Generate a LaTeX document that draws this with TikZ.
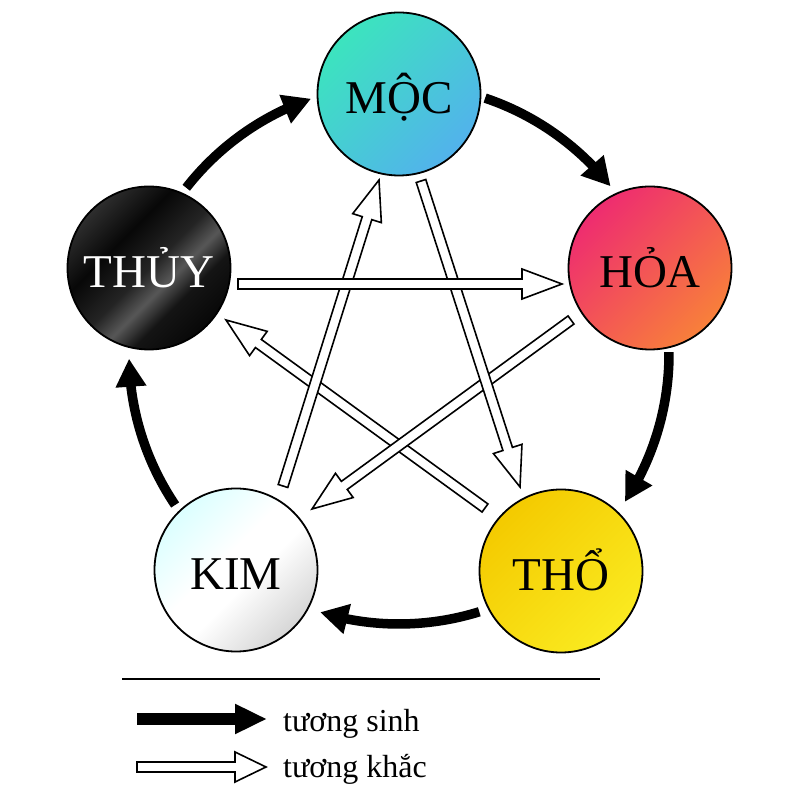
\documentclass[tikz,border=0pt]{standalone}
\usepackage{fontspec}
\setmainfont{Liberation Serif}
\usetikzlibrary{arrows.meta,calc,bending}
\definecolor{mocA}{HTML}{3CE4BE}
\definecolor{mocM}{HTML}{80DAE8}
\definecolor{mocB}{HTML}{52B2EC}
\definecolor{hoaA}{HTML}{EE2C70}
\definecolor{hoaB}{HTML}{F8803A}
\definecolor{thoA}{HTML}{F4CA00}
\definecolor{thoB}{HTML}{FAEA20}
\pgfdeclareverticalshading{thuyshade}{100bp}{color(0bp)=(black!97); color(25bp)=(black!97); color(36bp)=(black!92); color(43bp)=(black!66); color(50bp)=(black!86); color(62bp)=(black!97); color(75bp)=(black!82); color(100bp)=(black!82)}
\pgfdeclareverticalshading{kimshade}{100bp}{color(0bp)=(black!16); color(25bp)=(black!16); color(45bp)=(white); color(55bp)=(white); color(75bp)=(cyan!14); color(100bp)=(cyan!14)}
\newcommand\khac[3]{%
  \draw[khacline]
   ($(#1)!5pt!90:(#2)$) --
   ($(#2)!#3!(#1)!5pt!90:(#2)$) --
   ($(#2)!#3!(#1)!15pt!90:(#2)$) --
   (#2) --
   ($(#2)!#3!(#1)!15pt!-90:(#2)$) --
   ($(#2)!#3!(#1)!5pt!-90:(#2)$) --
   ($(#1)!5pt!-90:(#2)$) -- cycle;}
\begin{document}
\begin{tikzpicture}[x=1pt,y=1pt,
  elem/.style={circle, draw=black, line width=1.8pt, minimum size=163pt, inner sep=0pt,
    font=\fontsize{47}{47}\selectfont, text height=39pt, text depth=0pt},
  sinh/.style={line width=9.5pt, -{Triangle[length=28pt,width=29pt]}},
  khacline/.style={draw=black, fill=white, line width=1.6pt, line join=miter},
  legtext/.style={anchor=base west, inner sep=0pt, font=\fontsize{32}{32}\selectfont}]
\useasboundingbox (0,0) rectangle (800,800);
\fill[white] (0,0) rectangle (800,800);
% elements
\node[elem, top color=mocA, middle color=mocM, bottom color=mocB, shading angle=45] (moc) at (399,706) {MỘC};
\node[elem, top color=hoaA, bottom color=hoaB, shading angle=45] (hoa) at (650,532) {HỎA};
\node[elem, top color=thoA, bottom color=thoB, shading angle=45] (tho) at (561,229) {THỔ};
\node[elem, shading=kimshade, shading angle=45] (kim) at (236,230) {KIM};
\node[elem, shading=thuyshade, shading angle=45, text=white] (thuy) at (149,532) {THỦY};
% sinh cycle
\coordinate (c) at (399,446);
\draw[sinh] ($(c)+(71.4:270)$) arc[start angle=71.4, end angle=38.4, radius=270];
\draw[sinh] ($(c)+(0.4:270)$) arc[start angle=0.4, end angle=-33.2, radius=270];
\draw[sinh] ($(c)+(-72.7:270)$) arc[start angle=-72.7, end angle=-107, radius=270];
\draw[sinh] ($(c)+(-146:270)$) arc[start angle=-146, end angle=-179, radius=270];
\draw[sinh] ($(c)+(142:270)$) arc[start angle=142, end angle=109, radius=270];
% khac star
\coordinate (k1s) at ($(moc)+(22,-87)$);  \coordinate (k1e) at ($(tho)+(-41,84)$);
\coordinate (k2s) at ($(kim)+(47,84)$);   \coordinate (k2e) at ($(moc)+(-20,-86)$);
\coordinate (k3s) at ($(thuy)+(89,-16)$); \coordinate (k3e) at ($(hoa)+(-88,-16)$);
\coordinate (k4s) at ($(hoa)+(-79,-52)$); \coordinate (k4e) at ($(kim)+(76,61)$);
\coordinate (k5s) at ($(tho)+(-76,63)$);  \coordinate (k5e) at ($(thuy)+(77,-52)$);
\khac{k5s}{k5e}{40pt}
\khac{k4s}{k4e}{40pt}
\khac{k1s}{k1e}{40pt}
\khac{k2s}{k2e}{40pt}
\khac{k3s}{k3e}{40pt}
% legend
\draw[line width=1.3pt] (122,121) -- (600,121);
\coordinate (l1s) at (137,81); \coordinate (l1e) at (267,81);
\draw[line width=12pt, -{Triangle[length=32pt,width=28pt]}] (l1s) -- (l1e);
\node[legtext] (l1) at (283,68) {tương sinh};
\coordinate (l2s) at (137,33); \coordinate (l2e) at (266,33);
\khac{l2s}{l2e}{31pt}
\node[legtext] (l2) at (283,22) {tương khắc};
\end{tikzpicture}
\end{document}
